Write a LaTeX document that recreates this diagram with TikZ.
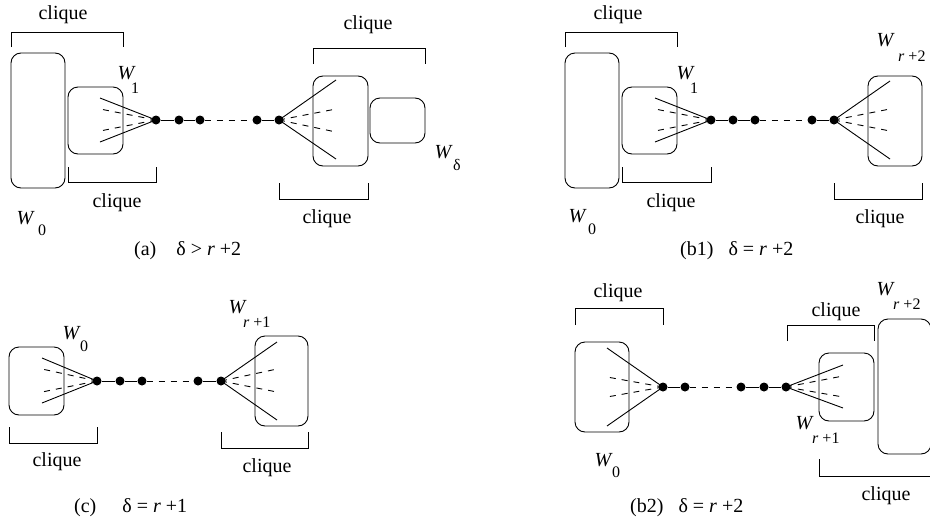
\documentclass[tikz,border=0pt]{standalone}
\usepackage{fontspec}
\setmainfont{Liberation Serif}
\tikzset{
 wbox/.style={draw, rounded corners=10pt, line width=0.9pt, inner sep=0pt},
 vtx/.style={circle, fill, inner sep=0pt, minimum size=9pt},
 edge/.style={line width=0.9pt},
 dsh/.style={line width=0.9pt, dash pattern=on 6pt off 6pt},
 txt/.style={inner sep=0pt, font=\fontsize{20}{20}\selectfont},
 captext/.style={inner sep=0pt, anchor=west, font=\fontsize{20}{20}\selectfont},
 sub/.style={inner sep=0pt, font=\fontsize{16}{16}\selectfont},
 subw/.style={inner sep=0pt, anchor=west, font=\fontsize{16}{16}\selectfont},
 wlab/.style={inner sep=0pt, font=\fontsize{20}{20}\selectfont\itshape},
}
\begin{document}
\begin{tikzpicture}[x=1pt,y=-1pt]
\useasboundingbox (0,0) rectangle (930,517);

% ================= panel (a) =================
\node[wbox, minimum width=54pt, minimum height=135pt] (a0) at (38,120.5) {};
\node[wbox, minimum width=55pt, minimum height=67pt] (a1) at (95.5,120.5) {};
\node[wbox, minimum width=55pt, minimum height=90pt] (a2) at (340.5,121) {};
\node[wbox, minimum width=55pt, minimum height=45pt] (a3) at (397.5,120.5) {};
\node[vtx] (av1) at (156,120) {};
\node[vtx] (av2) at (179,120) {};
\node[vtx] (av3) at (200,120) {};
\node[vtx] (av4) at (257,120) {};
\node[vtx] (av5) at (279,120) {};
\draw[edge] (av1) -- (av2) -- (av3);
\draw[dsh] (av3) -- (av4);
\draw[edge] (av4) -- (av5);
\draw[edge] (av1.center) -- (100,98);
\draw[edge] (av1.center) -- (100,142);
\draw[dsh] (av1.center) -- (100,109);
\draw[dsh] (av1.center) -- (100,131);
\draw[edge] (av5.center) -- (336,80);
\draw[edge] (av5.center) -- (336,159);
\draw[dsh] (av5.center) -- (336,109);
\draw[dsh] (av5.center) -- (336,132);
\draw[edge] (11,47) -- (11,32) -- (123,32) -- (123,47);
\node[txt] (ac1) at (63,15) {clique};
\draw[edge] (68,167) -- (68,182) -- (156,182) -- (156,167);
\node[txt] (ac2) at (117,203) {clique};
\draw[edge] (313,64) -- (313,48) -- (425,48) -- (425,64);
\node[txt] (ac3) at (368,25) {clique};
\draw[edge] (279,183) -- (279,199) -- (368,199) -- (368,183);
\node[txt] (ac4) at (327,219) {clique};
\node[wlab] (aw0) at (25,218) {W};
\node[sub] (aw0s) at (42,230) {0};
\node[wlab] (aw1) at (126,73) {W};
\node[sub] (aw1s) at (135,88) {1};
\node[wlab] (awd) at (443,152) {W};
\node[sub] (awds) at (457,165) {δ};
\node[captext] (acap) at (134,251) {(a)\hspace{20pt}δ > \textit{r} +2};

% ================= panel (b1) =================
\node[wbox, minimum width=54pt, minimum height=135pt] (b0) at (592,120.5) {};
\node[wbox, minimum width=55pt, minimum height=67pt] (b1) at (649.5,120.5) {};
\node[wbox, minimum width=54pt, minimum height=90pt] (b2) at (895,121) {};
\node[vtx] (bv1) at (711,120) {};
\node[vtx] (bv2) at (733,120) {};
\node[vtx] (bv3) at (755,120) {};
\node[vtx] (bv4) at (812,120) {};
\node[vtx] (bv5) at (834,120) {};
\draw[edge] (bv1) -- (bv2) -- (bv3);
\draw[dsh] (bv3) -- (bv4);
\draw[edge] (bv4) -- (bv5);
\draw[edge] (bv1.center) -- (655,98);
\draw[edge] (bv1.center) -- (655,142);
\draw[dsh] (bv1.center) -- (655,109);
\draw[dsh] (bv1.center) -- (655,131);
\draw[edge] (bv5.center) -- (890,81);
\draw[edge] (bv5.center) -- (890,159);
\draw[dsh] (bv5.center) -- (890,109);
\draw[dsh] (bv5.center) -- (890,131);
\draw[edge] (565,47) -- (565,32) -- (677,32) -- (677,47);
\node[txt] (bc1) at (618,15) {clique};
\draw[edge] (622,167) -- (622,182) -- (711,182) -- (711,167);
\node[txt] (bc2) at (671,203) {clique};
\draw[edge] (834,183) -- (834,199) -- (922,199) -- (922,183);
\node[txt] (bc3) at (880,219) {clique};
\node[wlab] (bw0) at (577,216) {W};
\node[sub] (bw0s) at (592,229) {0};
\node[wlab] (bw1) at (685,73) {W};
\node[sub] (bw1s) at (694,88) {1};
\node[wlab] (bw2) at (885,40) {W};
\node[subw] (bw2s) at (898,56) {\textit{r} +2};
\node[captext] (bcap) at (680,251) {(b1)\hspace{15pt}δ = \textit{r} +2};

% ================= panel (c) =================
\node[wbox, minimum width=55pt, minimum height=68pt] (c0) at (36.5,381) {};
\node[wbox, minimum width=53pt, minimum height=90pt] (c1) at (281.5,381) {};
\node[vtx] (cv1) at (97,381) {};
\node[vtx] (cv2) at (120,381) {};
\node[vtx] (cv3) at (142,381) {};
\node[vtx] (cv4) at (198,381) {};
\node[vtx] (cv5) at (221,381) {};
\draw[edge] (cv1) -- (cv2) -- (cv3);
\draw[dsh] (cv3) -- (cv4);
\draw[edge] (cv4) -- (cv5);
\draw[edge] (cv1.center) -- (42,358);
\draw[edge] (cv1.center) -- (42,403);
\draw[dsh] (cv1.center) -- (42,369);
\draw[dsh] (cv1.center) -- (42,392);
\draw[edge] (cv5.center) -- (277,342);
\draw[edge] (cv5.center) -- (277,420);
\draw[dsh] (cv5.center) -- (277,369);
\draw[dsh] (cv5.center) -- (277,392);
\draw[edge] (9,427) -- (9,443) -- (97,443) -- (97,427);
\node[txt] (cc1) at (57,462) {clique};
\draw[edge] (221,432) -- (221,448) -- (308,448) -- (308,432);
\node[txt] (cc2) at (267,468) {clique};
\node[wlab] (cw0) at (71,333) {W};
\node[sub] (cw0s) at (84,346) {0};
\node[wlab] (cw1) at (237,307) {W};
\node[subw] (cw1s) at (243,322) {\textit{r} +1};
\node[captext] (ccap) at (74,508) {(c)\hspace{26pt}δ = \textit{r} +1};

% ================= panel (b2) =================
\node[wbox, minimum width=54pt, minimum height=90pt] (d0) at (602,387) {};
\node[wbox, minimum width=55pt, minimum height=68pt] (d1) at (846.5,387) {};
\node[wbox, minimum width=53pt, minimum height=135pt] (d2) at (904.5,386.5) {};
\node[vtx] (dv1) at (663,387) {};
\node[vtx] (dv2) at (685,387) {};
\node[vtx] (dv3) at (741,387) {};
\node[vtx] (dv4) at (764,387) {};
\node[vtx] (dv5) at (786,387) {};
\draw[edge] (dv1) -- (dv2);
\draw[dsh] (dv2) -- (dv3);
\draw[edge] (dv3) -- (dv4) -- (dv5);
\draw[edge] (dv1.center) -- (607,348);
\draw[edge] (dv1.center) -- (607,426);
\draw[dsh] (dv1.center) -- (607,377);
\draw[dsh] (dv1.center) -- (607,397);
\draw[edge] (dv5.center) -- (843,365);
\draw[edge] (dv5.center) -- (843,408);
\draw[dsh] (dv5.center) -- (843,376);
\draw[dsh] (dv5.center) -- (843,397);
\draw[edge] (575,325) -- (575,308) -- (663,308) -- (663,325);
\node[txt] (dc1) at (618,293) {clique};
\draw[edge] (787,341) -- (787,325) -- (874,325) -- (874,341);
\node[txt] (dc2) at (836,312) {clique};
\draw[edge] (819,459) -- (819,476) -- (935,476);
\node[txt] (dc3) at (886,496) {clique};
\node[wlab] (dw0) at (603,460) {W};
\node[sub] (dw0s) at (616,472) {0};
\node[wlab] (dw1) at (804,423) {W};
\node[subw] (dw1s) at (812,438) {\textit{r} +1};
\node[wlab] (dw2) at (885,289) {W};
\node[subw] (dw2s) at (893,304) {\textit{r} +2};
\node[captext] (dcap) at (630,508) {(b2)\hspace{15pt}δ = \textit{r} +2};
\end{tikzpicture}
\end{document}
